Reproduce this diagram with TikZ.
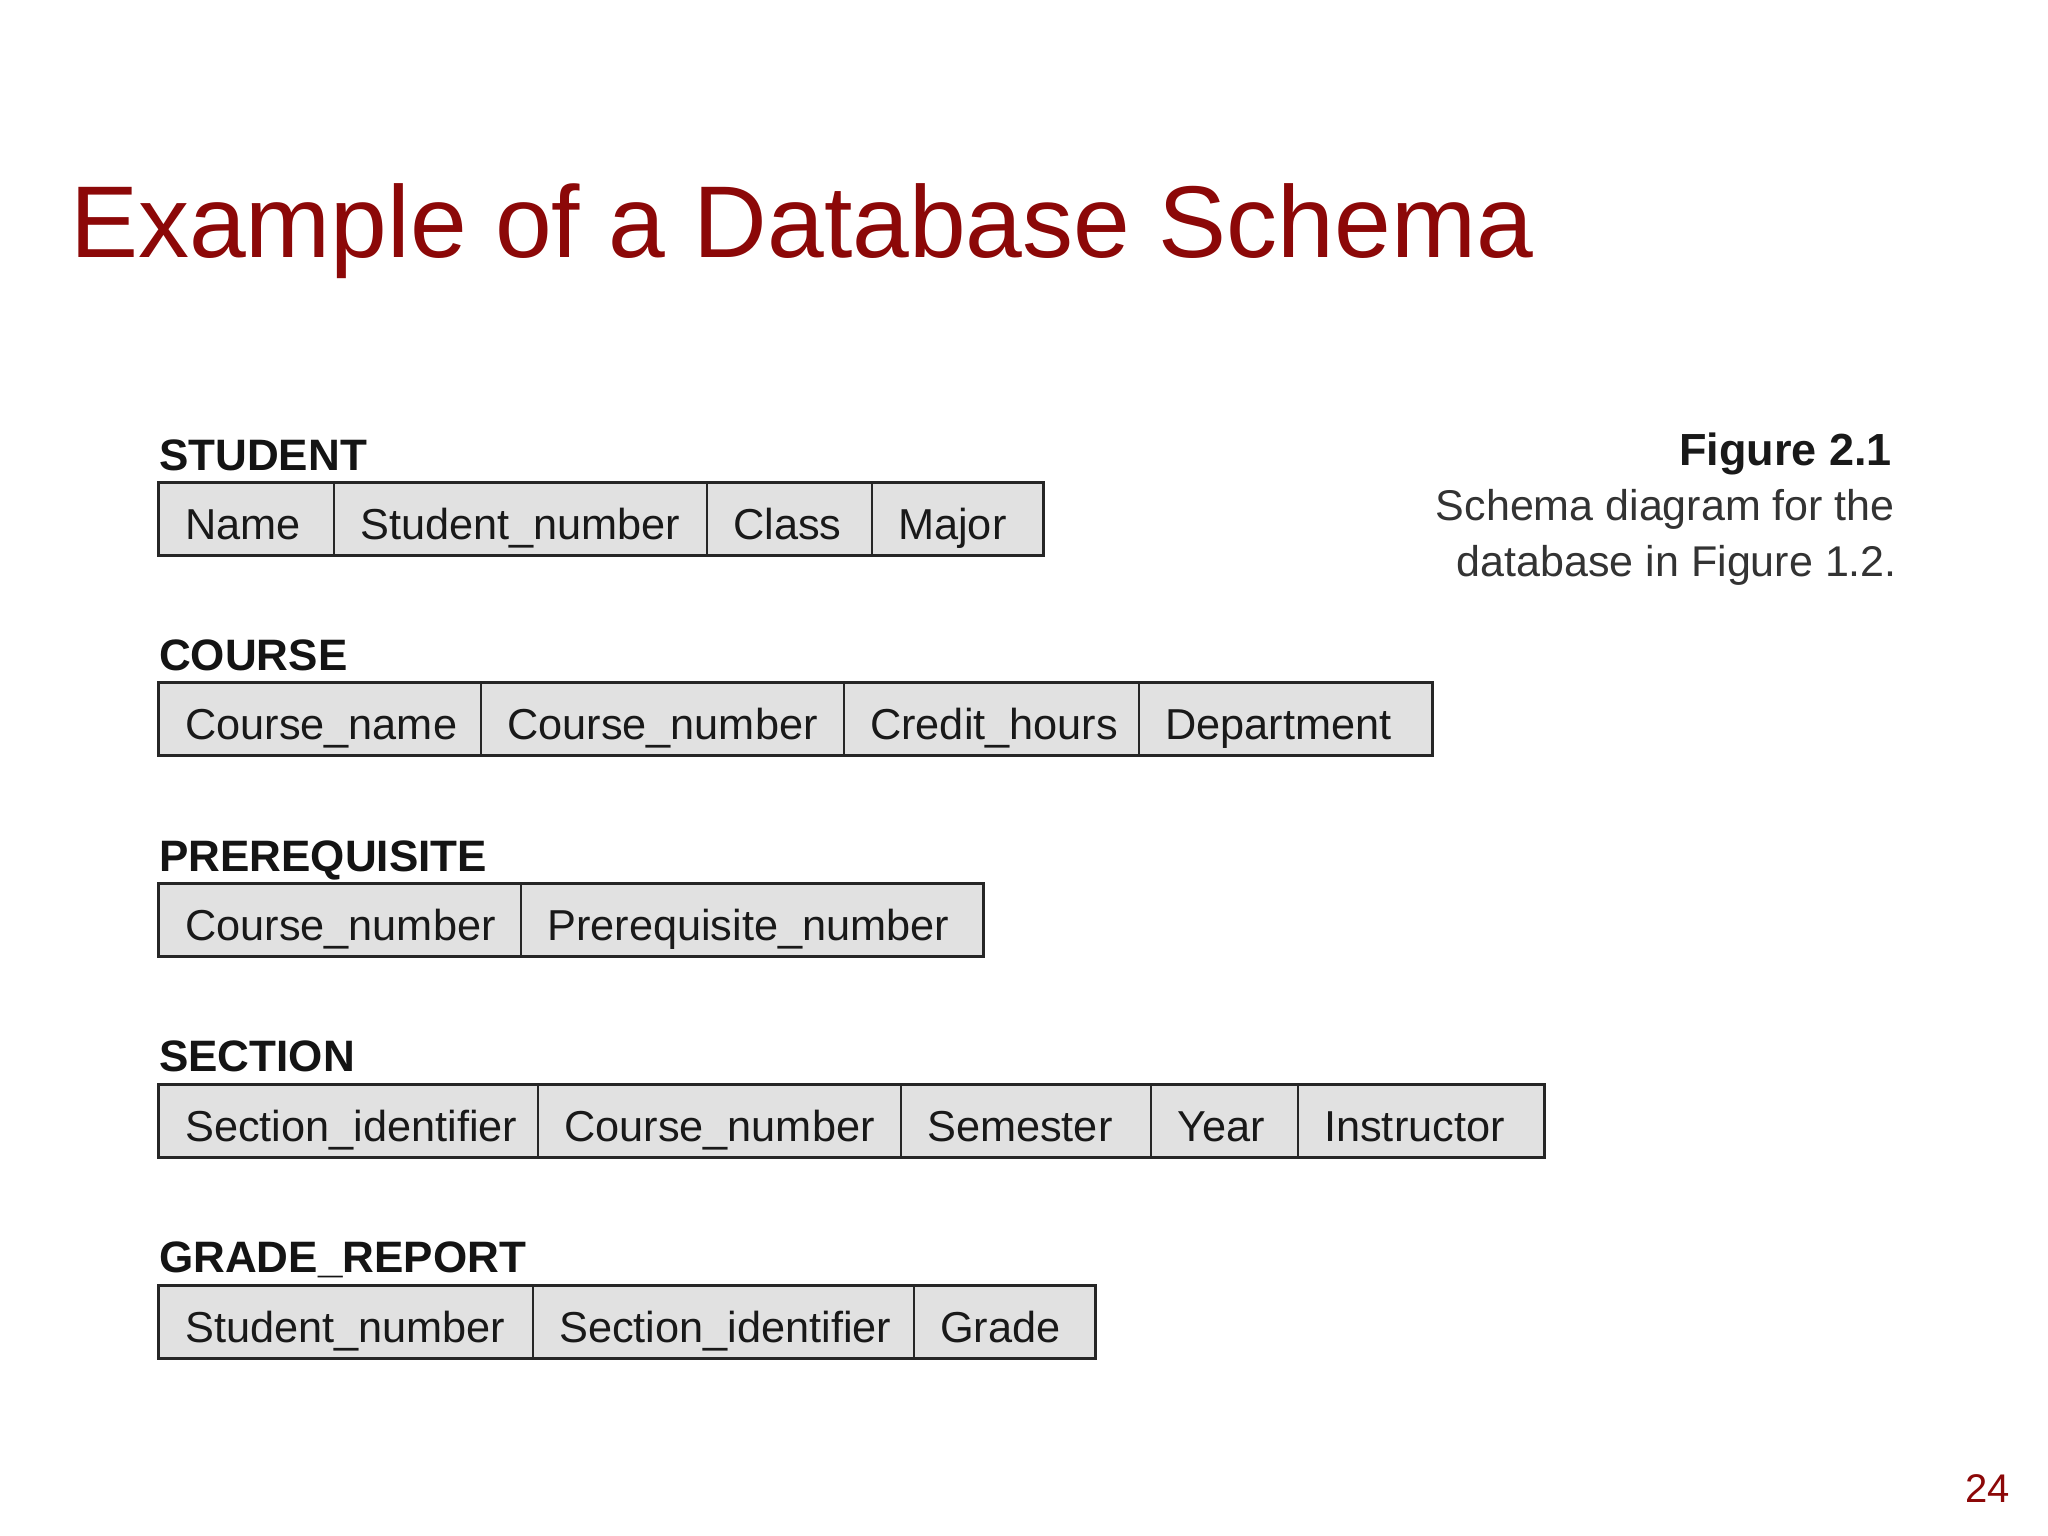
\documentclass[tikz,border=0pt]{standalone}
\usepackage{fontspec}
\setmainfont{Liberation Sans}
\usetikzlibrary{fit}
\definecolor{titlered}{HTML}{8C0808}
\definecolor{cellfill}{HTML}{E1E1E1}
\definecolor{cellline}{HTML}{262626}
\definecolor{captext}{HTML}{333333}
\tikzset{
  cellbox/.style={draw=cellline, fill=cellfill, line width=2pt, inner sep=0pt},
  rowbox/.style={draw=cellline, line width=2.6pt, inner sep=0pt},
  celltext/.style={inner sep=0pt, text=black!90, font=\fontsize{43.3}{50}\selectfont},
  tlabel/.style={inner sep=0pt, text=black!92, font=\bfseries\fontsize{44}{52}\selectfont},
  captitle/.style={inner sep=0pt, text=black!90, font=\bfseries\fontsize{45}{52}\selectfont},
  captxt/.style={inner sep=0pt, text=captext, font=\fontsize{43}{50}\selectfont},
}
\newcommand\attr[5]{%
  \node[cellbox, fit={(#2,#4) (#3,#4+72)}] (#1) {};
  \node[celltext, anchor=base west] (#1t) at (#2+26,#4+56) {#5};}
\begin{document}
\begin{tikzpicture}[x=1pt,y=-1pt]
\useasboundingbox[fill=white] (0,0) rectangle (2048,1536);
% title
\node[anchor=base west, inner sep=0pt, text=titlered, font=\fontsize{102}{110}\selectfont] (title) at (70,257) {Example of a Database Schema};
\node[anchor=base east, inner sep=0pt, text=titlered, font=\fontsize{40}{46}\selectfont] (pnum) at (2010,1502) {24};
% caption
\node[captitle, anchor=base east] (cap1) at (1892,465) {Figure 2.1};
\node[captxt, anchor=base east] (cap2) at (1895,520) {Schema diagram for the};
\node[captxt, anchor=base east] (cap3) at (1897,576) {database in Figure 1.2.};
% STUDENT
\node[tlabel, anchor=base west] (lstudent) at (159,470) {STUDENT};
\attr{s1}{159}{334}{483}{Name}
\attr{s2}{334}{707}{483}{Student\_number}
\attr{s3}{707}{872}{483}{Class}
\attr{s4}{872}{1043}{483}{Major}
\node[rowbox, fit=(s1)(s4)] (student) {};
% COURSE
\node[tlabel, anchor=base west] (lcourse) at (159,670) {COURSE};
\attr{c1}{159}{481}{683}{Course\_name}
\attr{c2}{481}{844}{683}{Course\_number}
\attr{c3}{844}{1139}{683}{Credit\_hours}
\attr{c4}{1139}{1432}{683}{Department}
\node[rowbox, fit=(c1)(c4)] (course) {};
% PREREQUISITE
\node[tlabel, anchor=base west] (lprereq) at (159,871) {PREREQUISITE};
\attr{p1}{159}{521}{884}{Course\_number}
\attr{p2}{521}{983}{884}{Prerequisite\_number}
\node[rowbox, fit=(p1)(p2)] (prereq) {};
% SECTION
\node[tlabel, anchor=base west] (lsection) at (159,1071) {SECTION};
\attr{e1}{159}{538}{1085}{Section\_identifier}
\attr{e2}{538}{901}{1085}{Course\_number}
\attr{e3}{901}{1151}{1085}{Semester}
\attr{e4}{1151}{1298}{1085}{Year}
\attr{e5}{1298}{1544}{1085}{Instructor}
\node[rowbox, fit=(e1)(e5)] (section) {};
% GRADE_REPORT
\node[tlabel, anchor=base west] (lgrade) at (159,1272) {GRADE\_REPORT};
\attr{g1}{159}{533}{1286}{Student\_number}
\attr{g2}{533}{914}{1286}{Section\_identifier}
\attr{g3}{914}{1095}{1286}{Grade}
\node[rowbox, fit=(g1)(g3)] (grade) {};
\end{tikzpicture}
\end{document}
